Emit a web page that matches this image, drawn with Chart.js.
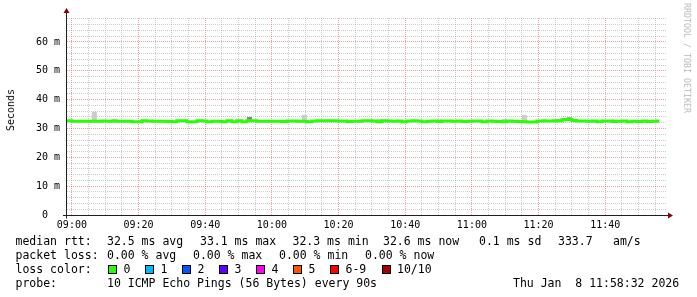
<!DOCTYPE html>
<html><head><meta charset="utf-8">
<script src="https://cdn.jsdelivr.net/npm/chart.js@4"></script>
<style>
html,body{margin:0;padding:0;background:#fff;}
#wrap{position:relative;width:697px;height:297px;overflow:hidden;font-family:"DejaVu Sans Mono",monospace;font-size:11.5px;color:#000;background:#fff;}
canvas{position:absolute;left:0;top:0;}
.t{position:absolute;white-space:pre;line-height:14px;}
.box{position:absolute;width:9px;height:9px;box-sizing:border-box;border:1px solid #000;top:265px;}
.rot{position:absolute;white-space:pre;line-height:1;}
</style></head><body>
<div id="wrap">
<canvas id="c" width="697" height="297"></canvas>
<div class="rot" style="left:10.7px;top:110px;font-size:10px;transform:translate(-50%,-50%) rotate(-90deg);">Seconds</div>
<div class="rot" style="left:687px;top:58px;font-size:8.3px;color:#b8b8b8;transform:translate(-50%,-50%) rotate(90deg);">RRDTOOL / TOBI OETIKER</div>
<div id="legend"></div>
</div>
<script>
// ---- data ----
const binMinutes = 1.5;            // 90 s steps
const firstBinCenter = 537.75;     // 08:57:45 (minutes since midnight)
const median = [
 32.7,32.7,32.5,32.5,32.5,32.5,32.5,32.5,32.6,32.5,
 32.6,32.5,32.5,32.5,32.3,32.3,32.7,32.6,32.5,32.5,
 32.5,32.4,32.3,32.7,32.7,32.3,32.3,32.7,32.6,32.3,
 32.5,32.5,32.3,32.7,32.3,32.7,32.3,32.7,32.7,32.5,
 32.5,32.5,32.5,32.5,32.4,32.6,32.6,32.5,32.5,32.3,
 32.6,32.7,32.7,32.7,32.7,32.6,32.6,32.4,32.5,32.5,
 32.7,32.7,32.6,32.3,32.7,32.6,32.5,32.6,32.3,32.6,
 32.7,32.6,32.3,32.5,32.6,32.4,32.6,32.6,32.5,32.6,
 32.4,32.5,32.6,32.6,32.3,32.6,32.5,32.4,32.3,32.6,
 32.5,32.4,32.3,32.2,32.2,32.6,32.6,32.6,32.6,32.7,
 33.0,33.1,32.8,32.6,32.6,32.5,32.6,32.3,32.6,32.6,
 32.4,32.5,32.6,32.3,32.5,32.4,32.6,32.4,32.5,32.6
];
// outer (light) smoke where it shows outside the median line
const smokeBins = [6, 10, 28, 37, 48, 63, 75, 88, 92, 96, 98, 99, 100, 101, 110];
const smokeLo   = [32.4,32.4,32.4,32.5,32.4,32.4,32.4,32.4,32.4,32.4,32.4,32.4,32.5,32.6,32.4];
const smokeHi   = [35.8,33.4,33.0,34.0,34.7,33.3,33.2,33.3,34.7,33.3,33.4,33.4,33.6,34.0,33.2];
// inner (dark) smoke
const innerBins = [37, 100, 101];
const innerLo   = [32.6, 33.0, 33.1];
const innerHi   = [34.0, 33.4, 33.8];

const xTickLabels = ["09:00","09:20","09:40","10:00","10:20","10:40","11:00","11:20","11:40"];
const yTickValues = [0, 10, 20, 30, 40, 50, 60];
const yTickLabels = ["0  ", "10 m", "20 m", "30 m", "40 m", "50 m", "60 m"];
const xMin = 538.53, xMax = 718.53;   // 08:58:32 .. 11:58:32
const yMax = 68.3;

const lossColors = ["#26ff00","#00b8ff","#0059ff","#5e00ff","#ff00f0","#ff5500","#ff0000","#a00000"];
const lossLabels = ["0","1","2","3","4","5","6-9","10/10"];

// ---- helpers ----
const toMin = s => { const [h,m] = s.split(':').map(Number); return h*60+m; };
const xMajor = xTickLabels.map(toMin);
const xMinor = []; for (let v = 540; v <= 715; v += 5) xMinor.push(v);
const yMinor = []; for (let v = 0; v <= 68; v += 2) yMinor.push(v);
const binX = i => firstBinCenter + i*binMinutes;

const medianPts = median.map((v,i) => ({x: binX(i), y: v}));
const smokePts = smokeBins.map((b,i) => ({x: binX(b), y: [smokeLo[i], smokeHi[i]]}));
const innerPts = innerBins.map((b,i) => ({x: binX(b), y: [innerLo[i], innerHi[i]]}));

const MAJOR = 'rgba(222,80,80,0.55)', MINOR = 'rgba(143,143,143,0.45)';

const axesPlugin = {
  id: 'rrdAxes',
  afterDatasetsDraw(chart) {
    const {ctx, chartArea: a} = chart;
    const y0 = Math.round(chart.scales.y.getPixelForValue(0)) + 0.5;
    const x0 = a.left - 0.5;
    ctx.save();
    ctx.strokeStyle = '#202020'; ctx.lineWidth = 1;
    ctx.beginPath();
    ctx.moveTo(a.left - 4, y0); ctx.lineTo(a.right + 2, y0);
    ctx.moveTo(x0, y0 + 3); ctx.lineTo(x0, a.top - 6);
    ctx.stroke();
    ctx.fillStyle = '#8b0000';
    ctx.beginPath();
    ctx.moveTo(x0, a.top - 10); ctx.lineTo(x0 - 3, a.top - 5); ctx.lineTo(x0 + 3, a.top - 5); ctx.closePath(); ctx.fill();
    ctx.beginPath();
    ctx.moveTo(a.right + 6, y0); ctx.lineTo(a.right + 1, y0 - 3); ctx.lineTo(a.right + 1, y0 + 3); ctx.closePath(); ctx.fill();
    ctx.restore();
  }
};

new Chart(document.getElementById('c'), {
  type: 'bar',
  data: {
    datasets: [
      { type: 'line', data: medianPts, borderColor: '#26ff00', borderWidth: 3, pointRadius: 0,
        stepped: 'middle', fill: false, order: 1 },
      { type: 'bar', data: innerPts, backgroundColor: '#888888', borderWidth: 0, inflateAmount: 0,
        barPercentage: 1, categoryPercentage: 1, grouped: false, order: 2 },
      { type: 'bar', data: smokePts, backgroundColor: '#cccccc', borderWidth: 0, inflateAmount: 0,
        barPercentage: 1, categoryPercentage: 1, grouped: false, order: 3 }
    ]
  },
  options: {
    responsive: false, animation: false, devicePixelRatio: 1,
    layout: { padding: { left: 0, top: 18, right: 30, bottom: 0 } },
    plugins: { legend: { display: false }, tooltip: { enabled: false } },
    scales: {
      x: {
        type: 'linear', min: xMin, max: xMax, offset: false,
        afterBuildTicks: s => { s.ticks = xMinor.map(v => ({value: v})); },
        afterFit: s => { s.height = 82; },
        ticks: { autoSkip: false, maxRotation: 0, minRotation: 0, padding: 4, color: '#000',
          font: { family: 'DejaVu Sans Mono', size: 10 },
          callback: v => { const i = xMajor.indexOf(v); return i >= 0 ? xTickLabels[i] : ''; } },
        grid: { offset: false, drawTicks: false, tickLength: 0, lineWidth: 1, borderDash: [1,1],
          color: c => (xMajor.includes(c.tick && c.tick.value) ? MAJOR : MINOR) },
        border: { display: false, dash: [1,1] }
      },
      y: {
        type: 'linear', min: 0, max: yMax,
        afterBuildTicks: s => { s.ticks = yMinor.map(v => ({value: v})); },
        afterFit: s => { s.width = 67; },
        ticks: { autoSkip: false, padding: 7, color: '#000',
          font: { family: 'DejaVu Sans Mono', size: 10 },
          callback: v => { const i = yTickValues.indexOf(v); return i >= 0 ? yTickLabels[i] : ''; } },
        grid: { drawTicks: false, tickLength: 0, lineWidth: 1, borderDash: [1,1],
          color: c => (c.tick && yTickValues.includes(c.tick.value) ? MAJOR : MINOR) },
        border: { display: false, dash: [1,1] }
      }
    }
  },
  plugins: [axesPlugin]
});

// ---- legend (text) ----
const rows = [
  { top: 234, items: [[15.5,"median rtt:"],[107,"32.5 ms avg"],[200,"33.1 ms max"],[292.5,"32.3 ms min"],[383,"32.6 ms now"],[479,"0.1 ms sd"],[558,"333.7"],[613,"am/s"]] },
  { top: 248, items: [[15.5,"packet loss:"],[107,"0.00 % avg"],[193,"0.00 % max"],[279,"0.00 % min"],[365,"0.00 % now"]] },
  { top: 262, items: [[15.5,"loss color:"]] },
  { top: 276, items: [[15.5,"probe:"],[107,"10 ICMP Echo Pings (56 Bytes) every 90s"],[513,"Thu Jan  8 11:58:32 2026"]] }
];
const boxX = [108,145,182,219,256,293,330,381.5];
const lg = document.getElementById('legend');
rows.forEach(r => r.items.forEach(([x,s]) => {
  const d = document.createElement('div'); d.className = 't';
  d.style.left = x + 'px'; d.style.top = r.top + 'px'; d.textContent = s; lg.appendChild(d);
}));
lossColors.forEach((c,i) => {
  const b = document.createElement('div'); b.className = 'box';
  b.style.left = boxX[i] + 'px'; b.style.background = c; lg.appendChild(b);
  const d = document.createElement('div'); d.className = 't';
  d.style.left = (boxX[i] + 15.5) + 'px'; d.style.top = '262px'; d.textContent = lossLabels[i]; lg.appendChild(d);
});
</script>
</body></html>
